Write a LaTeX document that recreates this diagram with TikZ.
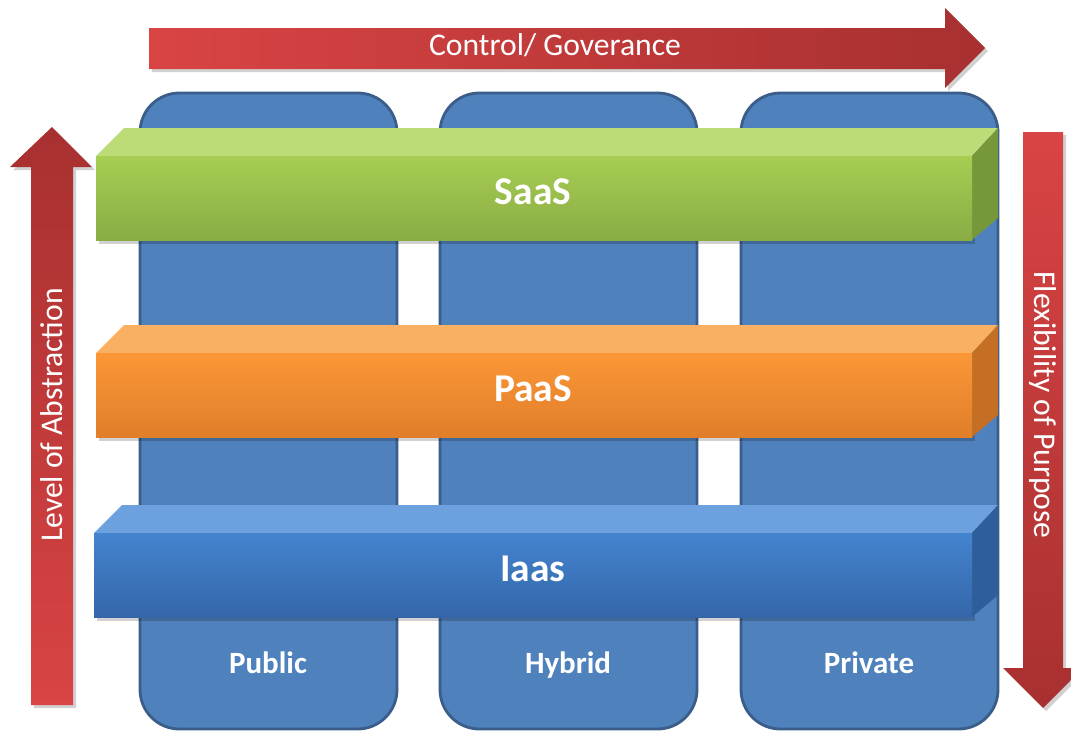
\documentclass[tikz,border=0pt]{standalone}
\usepackage{fontspec}
\setmainfont{Carlito}
\definecolor{colfill}{HTML}{4F81BD}
\definecolor{colline}{HTML}{3A5D8A}
\definecolor{redlight}{HTML}{D94444}
\definecolor{reddark}{HTML}{A83030}
\definecolor{frontsaas}{HTML}{A7CD53}
\definecolor{botsaas}{HTML}{89AC44}
\definecolor{topsaas}{HTML}{BBDC77}
\definecolor{sidesaas}{HTML}{76973A}
\definecolor{frontpaas}{HTML}{FB9737}
\definecolor{botpaas}{HTML}{E07E2A}
\definecolor{toppaas}{HTML}{FAB062}
\definecolor{sidepaas}{HTML}{C46F24}
\definecolor{frontiaas}{HTML}{4484CF}
\definecolor{botiaas}{HTML}{3466A9}
\definecolor{topiaas}{HTML}{6CA0DF}
\definecolor{sideiaas}{HTML}{2F5F9A}

\begin{document}
\begin{tikzpicture}[x=0.025cm, y=-0.025cm,
    column/.style={fill=colfill, draw=colline, line width=2pt, rounded corners=28pt},
    collabel/.style={font=\fontsize{22}{22}\selectfont\bfseries, text=white, anchor=base},
    barlabel/.style={font=\fontsize{28}{28}\selectfont\bfseries, text=white, anchor=base},
    arrowlabel/.style={font=\fontsize{22.5}{22.5}\selectfont, text=white},
    shadowfill/.style={fill=black, opacity=0.18}]
    \useasboundingbox (0,0) rectangle (1071,731);
    \clip (0,0) rectangle (1071,731);

    % Columns
    \foreach \x/\name/\label in {140/pub/Public, 440/hyb/Hybrid, 741/pri/Private} {
        \draw[column] (\x,93) rectangle (\x+257,729);
        \node[collabel] (\name) at (\x+128,673) {\label};
    }

    % Top arrow: control
    \fill[shadowfill] (152,31) -- (948,31) -- (948,11) -- (988,51) -- (948,91) -- (948,72) -- (152,72) -- cycle;
    \shade[left color=redlight, right color=reddark]
        (149,28) -- (945,28) -- (945,8) -- (985,48) -- (945,88) -- (945,69) -- (149,69) -- cycle;
    \node[arrowlabel, anchor=base] (ctrl) at (555,55) {Control/ Goverance};

    % Left arrow: abstraction
    \fill[shadowfill] (34,708) -- (34,170) -- (13,170) -- (55,130) -- (95,170) -- (76,170) -- (76,708) -- cycle;
    \shade[bottom color=redlight, top color=reddark]
        (31,705) -- (31,167) -- (10,167) -- (52,127) -- (92,167) -- (73,167) -- (73,705) -- cycle;
    \node[arrowlabel, rotate=90] (abstr) at (52,415) {Level of Abstraction};

    % Right arrow: flexibility
    \fill[shadowfill] (1026,135) -- (1066,135) -- (1066,671) -- (1086,671) -- (1046,711) -- (1006,671) -- (1026,671) -- cycle;
    \shade[top color=redlight, bottom color=reddark]
        (1023,132) -- (1063,132) -- (1063,668) -- (1083,668) -- (1043,708) -- (1003,668) -- (1023,668) -- cycle;
    \node[arrowlabel, rotate=-90] (flex) at (1043,405) {Flexibility of Purpose};

    % Layer bars
    \foreach \f/\b/\xl/\name/\label in {156/240/96/saas/SaaS, 353/437/96/paas/PaaS, 533/617/94/iaas/Iaas} {
        \fill[shadowfill] (\xl+3,\f+3) rectangle (975,\b+4);
        \fill[top\name] (\xl,\f) -- (\xl+28,\f-28) -- (998,\f-28) -- (972,\f) -- cycle;
        \fill[side\name] (972,\f) -- (998,\f-28) -- (998,\b-22) -- (972,\b) -- cycle;
        \shade[top color=front\name, bottom color=bot\name] (\xl,\f) rectangle (972,\b);
        \node[barlabel] (\name) at (533,\f+48) {\label};
    }
\end{tikzpicture}
\end{document}
